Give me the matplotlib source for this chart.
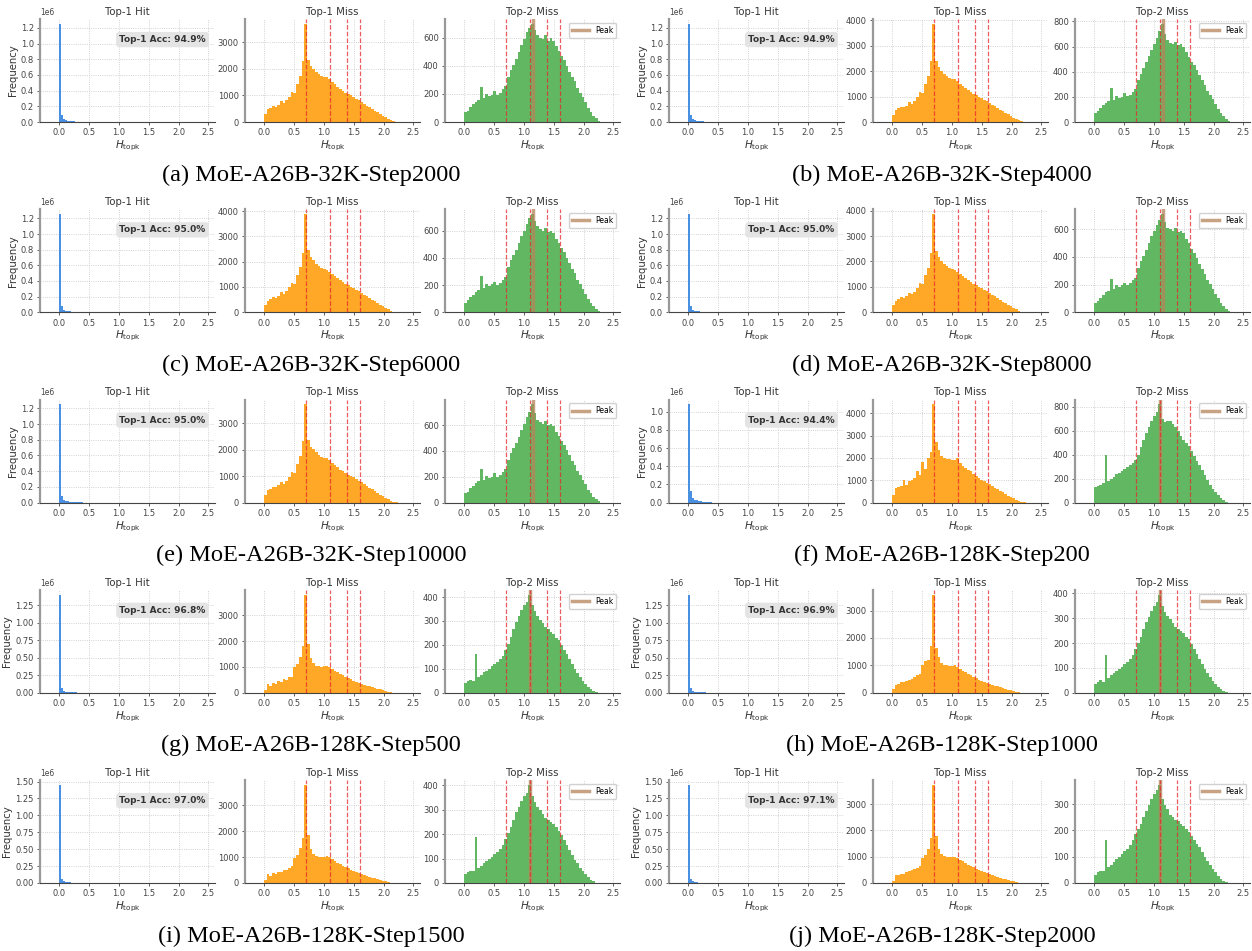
import numpy as np
import matplotlib.pyplot as plt
from matplotlib.ticker import FormatStrFormatter, MaxNLocator

plt.rcParams['font.family'] = 'DejaVu Sans'

# histogram grid (bin width chosen so ln2 sits in a bin centre)
BIN_W = np.log(2) / 15.5
MISS_EDGES = np.arange(53) * BIN_W
HIT_W = BIN_W * 0.75
LN_K = np.log([2, 3, 4, 5])

captions = ['(a) MoE-A26B-32K-Step2000', '(b) MoE-A26B-32K-Step4000',
            '(c) MoE-A26B-32K-Step6000', '(d) MoE-A26B-32K-Step8000',
            '(e) MoE-A26B-32K-Step10000', '(f) MoE-A26B-128K-Step200',
            '(g) MoE-A26B-128K-Step500', '(h) MoE-A26B-128K-Step1000',
            '(i) MoE-A26B-128K-Step1500', '(j) MoE-A26B-128K-Step2000']
top1_acc = [94.9, 94.9, 95.0, 95.0, 95.0, 94.4, 96.8, 96.9, 97.0, 97.1]
peak_pos = [1.16, 1.16, 1.16, 1.15, 1.16, 1.11, 1.10, 1.10, 1.10, 1.10]

# Top-1 Hit counts (thousands)
hit_a = [1250, 88, 35, 22, 15, 11, 9, 7, 5, 4, 3, 2]
hit_b = [1250, 86, 35, 22, 15, 11, 9, 7, 5, 4, 3, 2]
hit_c = [1255, 85, 34, 21, 15, 11, 9, 7, 5, 4, 3, 2]
hit_d = [1255, 85, 34, 21, 15, 11, 9, 7, 5, 4, 3, 2]
hit_e = [1250, 84, 34, 21, 15, 11, 9, 7, 5, 4, 3, 2]
hit_f = [1080, 130, 50, 32, 24, 18, 14, 11, 8, 6, 4, 2]
hit_g = [1400, 65, 28, 16, 11, 8, 6, 5, 4, 3, 2, 1]
hit_h = [1400, 62, 27, 16, 11, 8, 6, 5, 4, 3, 2, 1]
hit_i = [1450, 60, 26, 15, 10, 8, 6, 5, 4, 3, 2, 1]
hit_j = [1450, 58, 25, 15, 10, 7, 6, 5, 4, 3, 2, 1]

# Top-1 Miss counts
miss1_a = [300, 480, 520, 610, 560, 650, 780, 700, 820, 950, 1150, 1100, 1450,
           1750, 2300, 3700, 2350, 2100, 2000, 1900, 1800, 1720, 1700, 1700, 1620, 1500,
           1420, 1330, 1250, 1180, 1100, 1070, 1000, 950, 880, 820, 760, 690, 620,
           560, 500, 430, 370, 300, 240, 180, 120, 70, 30, 5, 0, 0]
miss1_b = [280, 470, 530, 600, 580, 640, 800, 720, 840, 980, 1180, 1120, 1500,
           1800, 2400, 3850, 2400, 2150, 2020, 1900, 1800, 1730, 1700, 1680, 1600, 1500,
           1420, 1330, 1260, 1180, 1110, 1060, 1000, 940, 880, 820, 750, 680, 620,
           560, 490, 420, 360, 300, 230, 170, 110, 60, 25, 5, 0, 0]
miss1_c = [290, 460, 540, 620, 570, 660, 790, 730, 830, 990, 1170, 1130, 1480,
           1780, 2350, 3880, 2450, 2180, 2050, 1920, 1820, 1740, 1700, 1690, 1610, 1510,
           1430, 1340, 1260, 1190, 1120, 1070, 1010, 950, 890, 830, 760, 690, 630,
           560, 500, 430, 370, 300, 240, 170, 110, 60, 25, 5, 0, 0]
miss1_d = [270, 450, 520, 590, 560, 630, 770, 720, 810, 960, 1140, 1100, 1460,
           1760, 2330, 3860, 2420, 2160, 2030, 1910, 1810, 1730, 1690, 1680, 1600, 1500,
           1420, 1330, 1250, 1180, 1110, 1060, 1000, 940, 880, 820, 750, 690, 620,
           560, 490, 420, 360, 300, 230, 170, 110, 60, 25, 5, 0, 0]
miss1_e = [300, 480, 530, 600, 570, 650, 790, 710, 830, 960, 1160, 1110, 1460,
           1760, 2320, 3720, 2380, 2120, 2010, 1900, 1800, 1720, 1700, 1690, 1610, 1500,
           1420, 1330, 1250, 1180, 1100, 1060, 1000, 950, 880, 820, 760, 690, 620,
           560, 500, 430, 370, 300, 240, 180, 120, 70, 30, 5, 0, 0]
miss1_f = [350, 650, 700, 760, 1000, 800, 950, 1000, 1100, 1400, 1250, 1800, 1500,
           2000, 2250, 4400, 2700, 2350, 2100, 2000, 1950, 1950, 1920, 1900, 1980, 1750,
           1650, 1560, 1480, 1400, 1300, 1200, 1100, 1020, 950, 880, 810, 740, 660,
           590, 520, 450, 380, 310, 250, 190, 130, 80, 40, 10, 0, 0]
miss1_g = [100, 350, 260, 380, 330, 450, 420, 520, 500, 600, 620, 1000, 1100,
           1400, 1800, 3800, 1900, 1350, 1150, 1050, 1020, 1010, 1030, 1040, 1000, 920,
           850, 790, 730, 680, 620, 570, 520, 470, 430, 390, 350, 310, 280,
           250, 220, 190, 160, 130, 100, 70, 45, 20, 5, 0, 0, 0]
miss1_h = [120, 280, 320, 380, 400, 430, 470, 520, 560, 640, 680, 1000, 1150,
           1200, 1700, 3580, 1650, 1300, 1100, 1030, 1000, 980, 990, 1000, 950, 880,
           810, 750, 690, 640, 580, 530, 480, 440, 400, 360, 320, 290, 260,
           230, 200, 170, 140, 110, 85, 60, 35, 15, 5, 0, 0, 0]
miss1_i = [100, 330, 280, 370, 340, 440, 430, 510, 520, 590, 640, 980, 1080,
           1350, 1750, 3780, 1850, 1320, 1120, 1040, 1010, 1000, 1020, 1030, 990, 910,
           840, 780, 720, 670, 610, 560, 510, 460, 420, 380, 340, 300, 270,
           240, 210, 180, 150, 120, 95, 65, 40, 18, 5, 0, 0, 0]
miss1_j = [90, 300, 290, 360, 350, 420, 440, 500, 530, 580, 650, 950, 1050,
           1300, 1700, 3730, 1800, 1280, 1100, 1020, 990, 980, 990, 1000, 960, 890,
           820, 760, 700, 650, 590, 540, 490, 450, 410, 370, 330, 290, 260,
           230, 200, 170, 140, 110, 85, 60, 35, 15, 5, 0, 0, 0]

# Top-2 Miss counts
miss2_a = [70, 80, 105, 130, 145, 160, 250, 170, 200, 185, 195, 220, 195,
           210, 235, 255, 320, 370, 410, 450, 500, 550, 590, 640, 670, 700,
           660, 620, 600, 590, 620, 580, 600, 580, 540, 510, 470, 440, 400, 360,
           320, 290, 240, 210, 175, 140, 100, 70, 45, 25, 8, 0]
miss2_b = [75, 85, 110, 135, 150, 165, 270, 175, 205, 190, 200, 230, 205,
           215, 240, 265, 330, 385, 430, 475, 525, 575, 620, 670, 720, 780,
           700, 650, 630, 620, 640, 610, 620, 600, 560, 520, 480, 450, 410, 370,
           330, 295, 250, 215, 180, 145, 105, 72, 46, 25, 8, 0]
miss2_c = [70, 90, 110, 130, 150, 160, 265, 175, 210, 190, 205, 225, 200,
           215, 240, 260, 330, 380, 420, 460, 510, 560, 600, 650, 690, 720,
           670, 630, 610, 600, 620, 590, 600, 580, 540, 510, 470, 440, 400, 360,
           320, 290, 240, 210, 170, 135, 100, 70, 45, 25, 8, 0]
miss2_d = [65, 85, 105, 125, 145, 155, 240, 170, 200, 185, 195, 215, 195,
           210, 230, 250, 320, 370, 410, 450, 500, 550, 590, 630, 665, 710,
           650, 610, 600, 590, 610, 580, 590, 570, 530, 500, 460, 430, 390, 350,
           310, 280, 235, 205, 170, 135, 100, 70, 45, 25, 8, 0]
miss2_e = [70, 85, 110, 130, 150, 165, 260, 175, 205, 190, 200, 225, 200,
           215, 240, 260, 330, 380, 420, 460, 510, 560, 610, 660, 700, 760,
           690, 640, 620, 610, 630, 600, 610, 590, 550, 515, 475, 445, 405, 365,
           325, 290, 245, 210, 175, 140, 100, 70, 45, 25, 8, 0]
miss2_f = [130, 140, 150, 160, 400, 180, 200, 215, 235, 250, 265, 280, 295,
           310, 330, 355, 400, 460, 520, 580, 630, 680, 720, 760, 820, 700,
           670, 680, 680, 660, 630, 600, 560, 520, 500, 470, 430, 390, 350,
           310, 270, 230, 190, 150, 115, 85, 60, 40, 20, 8, 0, 0]
miss2_g = [40, 50, 55, 50, 160, 65, 75, 85, 92, 100, 110, 120, 130,
           140, 155, 180, 205, 235, 265, 295, 320, 345, 365, 380, 410, 365,
           340, 320, 305, 290, 275, 265, 255, 245, 230, 220, 200, 180, 160,
           140, 120, 100, 82, 65, 50, 36, 25, 15, 7, 2, 0, 0]
miss2_h = [35, 45, 50, 45, 150, 60, 70, 80, 88, 95, 105, 115, 125,
           135, 150, 175, 200, 225, 255, 285, 305, 330, 350, 365, 395, 350,
           325, 310, 295, 280, 265, 258, 250, 240, 225, 215, 195, 175, 155,
           135, 115, 95, 80, 62, 48, 35, 24, 14, 7, 2, 0, 0]
miss2_i = [35, 45, 50, 50, 190, 60, 70, 80, 90, 98, 108, 118, 128,
           140, 155, 180, 205, 230, 260, 290, 310, 335, 355, 370, 402, 355,
           330, 312, 298, 282, 268, 260, 250, 240, 228, 215, 195, 175, 155,
           135, 115, 95, 80, 62, 48, 35, 24, 14, 7, 2, 0, 0]
miss2_j = [30, 40, 45, 45, 165, 60, 70, 80, 90, 100, 110, 120, 130,
           145, 165, 185, 205, 225, 250, 275, 295, 320, 340, 355, 373, 320,
           295, 280, 260, 250, 240, 235, 225, 215, 205, 195, 180, 165, 150,
           135, 118, 100, 85, 70, 55, 40, 28, 16, 8, 3, 0, 0]

hits = [hit_a, hit_b, hit_c, hit_d, hit_e, hit_f, hit_g, hit_h, hit_i, hit_j]
miss1 = [miss1_a, miss1_b, miss1_c, miss1_d, miss1_e,
         miss1_f, miss1_g, miss1_h, miss1_i, miss1_j]
miss2 = [miss2_a, miss2_b, miss2_c, miss2_d, miss2_e,
         miss2_f, miss2_g, miss2_h, miss2_i, miss2_j]

W, H = 1252, 951
fig = plt.figure(figsize=(W / 100, H / 100), dpi=100)

PANEL_X = [[40, 245, 445], [669, 873, 1075]]
CAP_X = [311, 942]
TXT = '#333333'


def px_axes(x, ybottom, w=175, h=103):
    return fig.add_axes([x / W, 1 - ybottom / H, w / W, h / H])


def style(ax, title):
    ax.set_title(title, fontsize=7.3, color=TXT, pad=3)
    for s in ['top', 'right']:
        ax.spines[s].set_visible(False)
    ax.spines['left'].set_color('#999999')
    ax.spines['left'].set_linewidth(1.6)
    ax.spines['bottom'].set_color('#444444')
    ax.spines['bottom'].set_linewidth(0.8)
    ax.grid(True, ls=':', lw=0.6, color='#c4c4c4')
    ax.set_axisbelow(True)
    ax.tick_params(labelsize=6.0, colors='#444444', length=2.5, width=0.6, pad=2)
    ax.set_xlim(-0.32, 2.61)
    ax.set_xticks(np.arange(0, 2.51, 0.5))
    ax.xaxis.set_major_formatter(FormatStrFormatter('%.1f'))
    ax.yaxis.set_major_locator(MaxNLocator(7, steps=[1, 2, 2.5, 5, 10]))
    ax.set_xlabel(r'$H_{\mathrm{topk}}$', fontsize=7.5, color=TXT, labelpad=1)
    ax.yaxis.get_offset_text().set_fontsize(5.5)
    ax.yaxis.get_offset_text().set_color('#444444')


for g in range(10):
    row, col = g // 2, g % 2
    yb = 122 + 190.25 * row
    xs = PANEL_X[col]

    # Top-1 Hit
    ax = px_axes(xs[0], yb)
    hit_edges = np.arange(len(hits[g]) + 1) * HIT_W
    ax.stairs(np.array(hits[g]) * 1e3, hit_edges, fill=True, color='#4a90e2')
    style(ax, 'Top-1 Hit')
    ax.set_ylabel('Frequency', fontsize=7.3, color=TXT, labelpad=2)
    ax.text(0.70, 0.80, f'Top-1 Acc: {top1_acc[g]:.1f}%', transform=ax.transAxes,
            ha='center', va='center', fontsize=6.5, fontweight='bold', color=TXT,
            bbox=dict(boxstyle='round,pad=0.35', fc='#e4e4e4', ec='none'))

    # Top-1 Miss
    ax = px_axes(xs[1], yb)
    ax.stairs(miss1[g], MISS_EDGES, fill=True, color='#ffa726')
    for v in LN_K:
        ax.axvline(v, color='#e8262b', ls='--', lw=0.9, alpha=0.75)
    style(ax, 'Top-1 Miss')

    # Top-2 Miss
    ax = px_axes(xs[2], yb)
    ax.stairs(miss2[g], MISS_EDGES, fill=True, color='#62b862')
    ax.axvline(peak_pos[g], color='#b5835a', lw=2.5, alpha=0.75, label='Peak')
    for v in LN_K:
        ax.axvline(v, color='#e8262b', ls='--', lw=0.9, alpha=0.75)
    style(ax, 'Top-2 Miss')
    ax.legend(loc='upper right', fontsize=5.5, handlelength=2.2, borderpad=0.4,
              framealpha=0.9, edgecolor='#cccccc')

    fig.text(CAP_X[col] / W, 1 - (175 + 190.25 * row) / H, captions[g],
             ha='center', va='center', fontsize=17.6, family='Liberation Serif')

fig.savefig('out.png', dpi=100)
